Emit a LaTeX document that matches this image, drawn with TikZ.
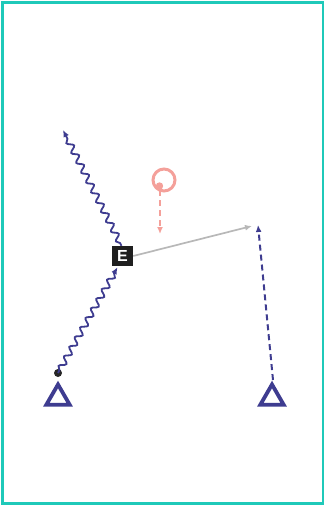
\documentclass[tikz,border=0pt]{standalone}
\usepackage{fontspec}
\setsansfont{Liberation Sans}
\usetikzlibrary{decorations.pathmorphing,arrows.meta,shapes.geometric,calc}
\definecolor{teal1}{HTML}{1FC9B9}
\definecolor{navy}{HTML}{3E3C90}
\definecolor{salmon}{HTML}{F4A09A}
\definecolor{grayl}{HTML}{B8B8B8}
\tikzset{
  wave/.style={navy,line width=1.8pt,decorate,decoration={snake,amplitude=3pt,segment length=11pt,pre length=3pt,post length=6pt}},
  tip/.style={-{Latex[length=7pt,width=6pt]}},
  detector/.style={regular polygon,regular polygon sides=3,draw=navy,line width=3.8pt,fill=white,minimum size=27pt,inner sep=0pt},
  ebox/.style={fill=black!88,text=white,minimum width=21pt,minimum height=20pt,inner sep=0pt,font=\sffamily\bfseries\fontsize{16}{16}\selectfont},
}
\begin{document}
\begin{tikzpicture}[x=1pt,y=-1pt]
\useasboundingbox (0,0) rectangle (325,506);
\draw[teal1,line width=2.6pt] (2.5,2.5) rectangle (323,503.5);
\node[ebox] (E) at (122.5,256) {E};
\coordinate (up) at (63,130);
\coordinate (src) at (58,373);
\fill[black!85] (src) circle (4pt);
\node[detector] (d1) at (58,398) {};
\node[detector] (d2) at (272,398) {};
\coordinate (gend) at (252,226);
\coordinate (dend) at (258,225);
\coordinate (dstart) at (273,380);
\draw[salmon,line width=3pt] (164,180) circle (11pt);
\coordinate (sdot) at (159.5,186);
\fill[salmon] (sdot) circle (3.7pt);
\coordinate (sstart) at (160,190);
\coordinate (send) at (160,234);
\coordinate (eout) at ($(E.north)+(-1,0)$);
\coordinate (ein) at ($(E.south)+(-5,1)$);
\draw[wave,tip] (eout) -- (up);
\draw[wave,tip] (src) -- (ein);
\draw[grayl,line width=1.7pt,tip] (E.east) -- (gend);
\draw[navy,line width=2pt,dash pattern=on 6pt off 4pt,tip] (dstart) -- (dend);
\draw[salmon,line width=2pt,dash pattern=on 6pt off 4pt,tip] (sstart) -- (send);
\end{tikzpicture}
\end{document}
